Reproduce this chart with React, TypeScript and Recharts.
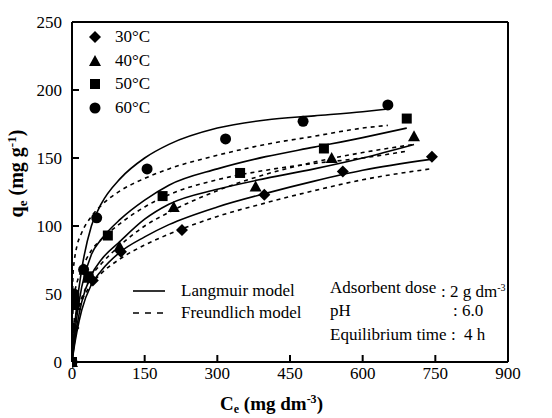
import React from 'react';
import { ComposedChart, Line, Scatter, XAxis, YAxis, ReferenceLine } from 'recharts';

// measured points (Ce in mg dm-3, qe in mg g-1)
const ce30 = [0, 3, 43, 101, 227, 397, 559, 743];
const q30 = [0, 25, 60, 81, 97, 123, 140, 151];
const ce40 = [0, 6, 34, 98, 210, 379, 536, 706];
const q40 = [0, 42, 62, 85, 114, 129, 150, 166];
const ce50 = [0, 5, 34, 74, 187, 347, 520, 691];
const q50 = [0, 45, 63, 93, 122, 139, 157, 179];
const ce60 = [0, 4, 24, 51, 155, 317, 477, 652];
const q60 = [0, 50, 68, 106, 142, 164, 177, 189];

// model curves on a common Ce grid, plus each curve's end
const curveCe = [0, 2, 5, 10, 20, 40, 60, 100, 150, 200, 300, 400, 500, 600];
const endCe = [740, 706, 691, 652]; // 30, 40, 50, 60 °C

const lang30 = [0, 5, 12, 22, 38, 57, 67, 81, 92, 101, 114, 124, 133, 141, 149];
const lang40 = [0, 6, 14, 26, 44, 64, 75, 89, 105, 116, 127, 135, 142, 150, 160];
const lang50 = [0, 8, 18, 33, 55, 79, 90, 105, 119, 130, 142, 151, 158, 165, 172];
const lang60 = [0, 10, 24, 42, 68, 100, 116, 135, 150, 160, 172, 178, 181, 184, 186];

const freu30 = [0, 22, 29, 36, 45, 57, 65, 76, 86, 94, 107, 117, 126, 134, 142];
const freu40 = [0, 22, 30, 37, 47, 63, 72, 86, 100, 110, 126, 138, 147, 154, 160];
const freu50 = [0, 40, 50, 58, 68, 82, 90, 102, 114, 123, 134, 141, 146, 150, 155];
const freu60 = [0, 64, 75, 85, 95, 107, 115, 126, 135, 142, 152, 160, 166, 172, 174];

const xTicks = [0, 150, 300, 450, 600, 750, 900];
const yTicks = [0, 50, 100, 150, 200, 250];
const tempLabels = ['30°C', '40°C', '50°C', '60°C'];

const FONT = 'Liberation Serif, Tinos, Times New Roman, DejaVu Serif, serif';

const pts = (ce: number[], q: number[]) => ce.map((c, i) => ({ ce: c, q: q[i] }));
const curve = (q: number[], end: number) => [...curveCe, end].map((c, i) => ({ ce: c, q: q[i] }));

const Diamond = ({ cx, cy }: any) => (
  <path d={`M${cx},${cy - 6} L${cx + 6},${cy} L${cx},${cy + 6} L${cx - 6},${cy} Z`} fill="#000" />
);
const Triangle = ({ cx, cy }: any) => (
  <path d={`M${cx},${cy - 6} L${cx + 6},${cy + 5} L${cx - 6},${cy + 5} Z`} fill="#000" />
);
const Square = ({ cx, cy }: any) => <rect x={cx - 5} y={cy - 5} width={10} height={10} fill="#000" />;
const Circle = ({ cx, cy }: any) => <circle cx={cx} cy={cy} r={5.5} fill="#000" />;

const shapes = [Diamond, Triangle, Square, Circle];

const XTick = ({ x, y, payload }: any) => (
  <g>
    <line x1={x} x2={x} y1={y - 4} y2={y - 11} stroke="#000" strokeWidth={2} />
    <text x={x} y={y + 13} textAnchor="middle" style={{ fontFamily: FONT }} fontSize={17} fill="#000">
      {payload.value}
    </text>
  </g>
);

const YTick = ({ x, y, payload }: any) => (
  <g>
    <line x1={x + 10} x2={x + 17} y1={y} y2={y} stroke="#000" strokeWidth={2} />
    <text x={x} y={y + 6} textAnchor="end" style={{ fontFamily: FONT }} fontSize={17} fill="#000">
      {payload.value}
    </text>
  </g>
);

const txt = (left: number, top: number, extra: React.CSSProperties = {}): React.CSSProperties => ({
  position: 'absolute',
  left,
  top,
  fontFamily: FONT,
  fontSize: 17,
  lineHeight: '18px',
  whiteSpace: 'nowrap',
  color: '#000',
  ...extra,
});

export default function App() {
  const series = [
    { ce: ce30, q: q30 },
    { ce: ce40, q: q40 },
    { ce: ce50, q: q50 },
    { ce: ce60, q: q60 },
  ];
  const langs = [lang30, lang40, lang50, lang60];
  const freus = [freu30, freu40, freu50, freu60];

  return (
    <div style={{ position: 'absolute', left: 0, top: 0, width: 552, height: 418, background: '#fff', fontFamily: FONT }}>
      <ComposedChart width={552} height={418} margin={{ top: 22, right: 44, bottom: 0, left: 0 }}>
        <XAxis
          dataKey="ce"
          type="number"
          domain={[0, 900]}
          ticks={xTicks}
          allowDataOverflow
          height={56}
          tickSize={0}
          tickMargin={4}
          tickLine={false}
          tick={<XTick />}
          axisLine={{ stroke: '#000', strokeWidth: 2 }}
        />
        <YAxis
          dataKey="q"
          type="number"
          domain={[0, 250]}
          ticks={yTicks}
          width={72}
          tickSize={0}
          tickMargin={10}
          tickLine={false}
          tick={<YTick />}
          axisLine={{ stroke: '#000', strokeWidth: 2 }}
        />
        <ReferenceLine y={250} stroke="#000" strokeWidth={2} />
        <ReferenceLine x={900} stroke="#000" strokeWidth={2} />
        {langs.map((q, i) => (
          <Line
            key={'l' + i}
            data={curve(q, endCe[i])}
            dataKey="q"
            type="monotone"
            stroke="#000"
            strokeWidth={1.6}
            dot={false}
            activeDot={false}
            isAnimationActive={false}
          />
        ))}
        {freus.map((q, i) => (
          <Line
            key={'f' + i}
            data={curve(q, endCe[i])}
            dataKey="q"
            type="monotone"
            stroke="#000"
            strokeWidth={1.6}
            strokeDasharray="4 4"
            dot={false}
            activeDot={false}
            isAnimationActive={false}
          />
        ))}
        {series.map((s, i) => {
          const Shape = shapes[i];
          return (
            <Scatter
              key={'s' + i}
              data={pts(s.ce, s.q)}
              dataKey="q"
              shape={(p: any) => <Shape cx={p.cx} cy={p.cy} />}
              isAnimationActive={false}
            />
          );
        })}
      </ComposedChart>

      {/* temperature legend */}
      {tempLabels.map((t, i) => {
        const Shape = shapes[i];
        const cy = 37 + i * 23.7;
        return (
          <React.Fragment key={t}>
            <svg style={{ position: 'absolute', left: 85, top: cy - 9, width: 20, height: 18 }}>
              <Shape cx={10} cy={9} />
            </svg>
            <div style={txt(115, cy - 9)}>{t}</div>
          </React.Fragment>
        );
      })}

      {/* model legend */}
      <svg style={{ position: 'absolute', left: 130, top: 282, width: 40, height: 40 }}>
        <line x1={3} x2={35} y1={9} y2={9} stroke="#000" strokeWidth={1.6} />
        <line x1={3} x2={35} y1={31} y2={31} stroke="#000" strokeWidth={1.6} strokeDasharray="6 6" />
      </svg>
      <div style={txt(181, 282)}>Langmuir model</div>
      <div style={txt(181, 304)}>Freundlich model</div>

      {/* conditions */}
      <div style={txt(330, 279)}>Adsorbent dose</div>
      <div style={txt(441, 279)}>
        : 2 g dm<sup style={{ fontSize: 10, verticalAlign: 6 }}>-3</sup>
      </div>
      <div style={txt(330, 302)}>pH</div>
      <div style={txt(453, 302)}>: 6.0</div>
      <div style={txt(330, 326)}>Equilibrium time :&nbsp; 4 h</div>

      {/* axis titles */}
      <div style={txt(220, 389, { fontWeight: 'bold', fontSize: 19, lineHeight: '20px' })}>
        C<sub style={{ fontSize: 12, verticalAlign: -3 }}>e</sub> (mg dm<sup style={{ fontSize: 12, verticalAlign: 7 }}>-3</sup>)
      </div>
      <div
        style={txt(-48, 157, {
          fontWeight: 'bold',
          fontSize: 20,
          lineHeight: '22px',
          transform: 'rotate(-90deg)',
          transformOrigin: 'center',
          width: 130,
          textAlign: 'center',
        })}
      >
        q<sub style={{ fontSize: 13, verticalAlign: -4 }}>e</sub> (mg g<sup style={{ fontSize: 13, verticalAlign: 7 }}>-1</sup>)
      </div>
    </div>
  );
}
